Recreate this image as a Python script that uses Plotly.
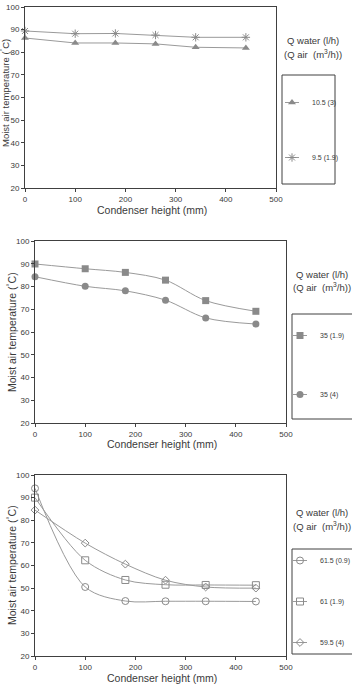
import plotly.graph_objects as go

W, H = 352, 687

# ---------------- data ----------------
x_height = [0, 100, 180, 260, 340, 440]

# panel 1
p1_names = ["10.5 (3)", "9.5 (1.9)"]
p1_tri = [86.3, 84.1, 84.1, 83.7, 82.2, 81.9]
p1_star = [89.4, 88.2, 88.3, 87.6, 86.6, 86.6]

# panel 2
p2_names = ["35 (1.9)", "35 (4)"]
p2_sq = [89.9, 87.8, 86.2, 82.8, 73.8, 69.1]
p2_ci = [84.3, 80.1, 78.1, 74.0, 66.2, 63.5]

# panel 3
p3_names = ["61.5 (0.9)", "61 (1.9)", "59.5 (4)"]
p3_ci = [94.1, 50.5, 44.3, 44.2, 44.2, 44.1]
p3_sq = [90.0, 62.3, 53.6, 51.5, 51.4, 51.3]
p3_di = [84.5, 69.9, 60.6, 53.5, 50.5, 50.0]

x_ticks = [0, 100, 200, 300, 400, 500]
y_ticks = [20, 30, 40, 50, 60, 70, 80, 90, 100]

# ---------------- style ----------------
FONT = "Liberation Sans, Arial, sans-serif"
TXT = "#3a3a3a"
AX = "#404040"
MK = "#8a8a8a"
LN = "#9a9a9a"
KEY_DASH = "0px,8px,14px,100px"   # short key line centred on the legend marker


def px(x):
    return x / W


def py(y):
    return 1 - y / H


panels = [
    dict(xd=(25, 276), yd=(7, 188), box=(282, 335, 75, 184), ttl=(313, 41, 54),
         xt=(152, 210), yt=(5, 93), ytsize=9.5, leg=(272, 88), gap=36),
    dict(xd=(35, 286), yd=(241, 423), box=(292, 362, 314, 419), ttl=(322, 274, 287),
         xt=(162, 444), yt=(11, 332), ytsize=10.5, leg=(280, 321), gap=40),
    dict(xd=(35, 286), yd=(475, 656), box=(292, 362, 549, 654), ttl=(322, 512, 526),
         xt=(162, 678), yt=(11, 565), ytsize=10.5, leg=(280, 546), gap=22),
]

fig = go.Figure()

series = [
    (1, p1_names[0], p1_tri, dict(symbol="triangle-up", size=7, color=MK), "linear"),
    (1, p1_names[1], p1_star, dict(symbol="asterisk-open", size=7, color=MK,
                                   line=dict(color=MK, width=1)), "linear"),
    (2, p2_names[0], p2_sq, dict(symbol="square", size=7, color=MK), "spline"),
    (2, p2_names[1], p2_ci, dict(symbol="circle", size=7, color=MK), "spline"),
    (3, p3_names[0], p3_ci, dict(symbol="circle-open", size=7, color=MK,
                                 line=dict(color=MK, width=1)), "spline"),
    (3, p3_names[1], p3_sq, dict(symbol="square-open", size=7, color=MK,
                                 line=dict(color=MK, width=1)), "spline"),
    (3, p3_names[2], p3_di, dict(symbol="diamond-open", size=6, color=MK,
                                 line=dict(color=MK, width=1)), "spline"),
]

for i, (p, name, ys, mk, shape) in enumerate(series):
    suffix = "" if p == 1 else str(p)
    # data trace
    fig.add_trace(go.Scatter(
        x=x_height, y=ys, name=name, mode="lines+markers",
        xaxis="x" + suffix, yaxis="y" + suffix,
        line=dict(color=LN, width=1, shape=shape, smoothing=0.9),
        marker=mk, cliponaxis=False, showlegend=False,
        legendgroup="g%d" % i,
    ))
    # legend key (no data, legend only)
    fig.add_trace(go.Scatter(
        x=[None], y=[None], name=name, mode="lines+markers",
        xaxis="x" + suffix, yaxis="y" + suffix,
        line=dict(color=LN, width=1, dash=KEY_DASH),
        marker=mk, showlegend=True,
        legend="legend" + suffix, legendgroup="g%d" % i,
    ))

layout = dict(
    width=W, height=H, margin=dict(l=0, r=0, t=0, b=0, autoexpand=False),
    paper_bgcolor="white", plot_bgcolor="white",
    font=dict(family=FONT, color=TXT, size=8),
    shapes=[], annotations=[],
)

for k, pn in enumerate(panels):
    suffix = "" if k == 0 else str(k + 1)
    xa = dict(domain=[px(pn["xd"][0]), px(pn["xd"][1])], range=[0, 500],
              tickvals=x_ticks, ticks="outside", ticklen=3, tickcolor=AX,
              showline=True, linecolor=AX, linewidth=1, mirror=True,
              showgrid=False, zeroline=False, tickfont=dict(size=8, color=TXT),
              ticklabeloverflow="allow",
              anchor="y" + suffix, fixedrange=True)
    ya = dict(domain=[py(pn["yd"][1]), py(pn["yd"][0])], range=[20, 100],
              tickvals=y_ticks, ticks="outside", ticklen=3, tickcolor=AX,
              showline=True, linecolor=AX, linewidth=1, mirror=True,
              showgrid=False, zeroline=False, tickfont=dict(size=8, color=TXT),
              ticklabeloverflow="allow",
              anchor="x" + suffix, fixedrange=True)
    layout["xaxis" + suffix] = xa
    layout["yaxis" + suffix] = ya

    x0, x1, y0, y1 = pn["box"]
    layout["shapes"].append(dict(type="rect", xref="paper", yref="paper",
                                 x0=px(x0), x1=px(x1), y0=py(y1), y1=py(y0),
                                 line=dict(color=AX, width=1)))
    tx, ty1, ty2 = pn["ttl"]
    layout["annotations"] += [
        dict(text="Q water (l/h)", x=px(tx), y=py(ty1), xref="paper", yref="paper",
             showarrow=False, font=dict(size=9.5, color=TXT), xanchor="center", yanchor="middle"),
        dict(text="(Q air  (m<sup>3</sup>/h))", x=px(tx), y=py(ty2), xref="paper", yref="paper",
             showarrow=False, font=dict(size=9.5, color=TXT), xanchor="center", yanchor="middle"),
        dict(text="Condenser height (mm)", x=px(pn["xt"][0]), y=py(pn["xt"][1]),
             xref="paper", yref="paper", showarrow=False,
             font=dict(size=10.5, color=TXT), xanchor="center", yanchor="middle"),
        dict(text="Moist air temperature (<sup>°</sup>C)", x=px(pn["yt"][0]), y=py(pn["yt"][1]),
             xref="paper", yref="paper", showarrow=False, textangle=-90,
             font=dict(size=pn["ytsize"], color=TXT), xanchor="center", yanchor="middle"),
    ]
    lx, ly = pn["leg"]
    layout["legend" + suffix] = dict(
        x=px(lx), y=py(ly), xanchor="left", yanchor="top",
        xref="paper", yref="paper",
        bgcolor="rgba(0,0,0,0)", borderwidth=0,
        font=dict(size=7, color=TXT), itemwidth=30,
        traceorder="grouped", tracegroupgap=pn["gap"],
        itemclick=False, itemdoubleclick=False,
    )

fig.update_layout(**layout)
fig.update_layout(showlegend=True)
fig.write_html("out.html", config={"displayModeBar": False})
